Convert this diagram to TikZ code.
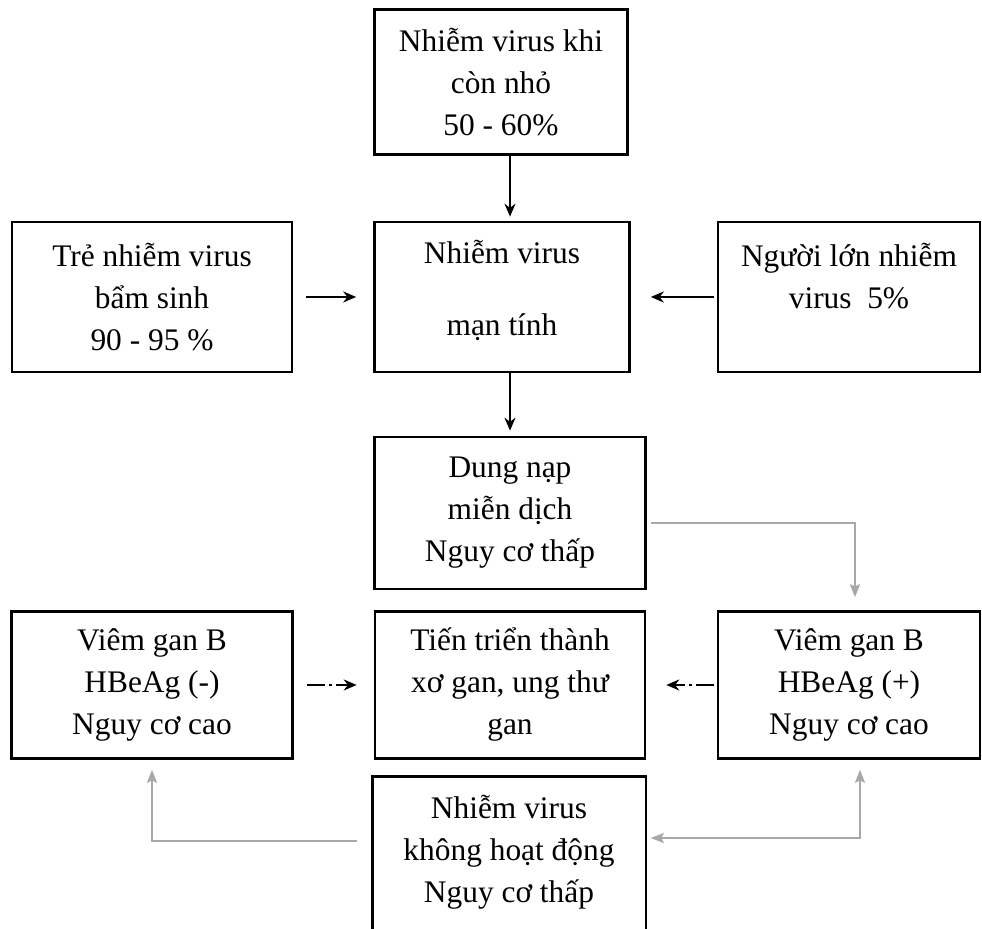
\documentclass[tikz,border=0pt]{standalone}
\usepackage{fontspec}
\setmainfont{Liberation Serif}
\usetikzlibrary{positioning, arrows.meta}

\definecolor{linkgray}{RGB}{168,168,168}

\tikzset{
  box/.style={shape=rectangle, draw=black, line width=1.3pt, align=center,
    inner sep=0pt, font=\fontsize{15.7}{21}\selectfont},
  openbox/.style={box, draw=none},
  frame/.style={draw=black, line width=1.3pt},
  flow/.style={->, draw=black, line width=1pt},
  dashflow/.style={flow, dash pattern=on 9pt off 2pt on 1.5pt off 2pt},
  link/.style={draw=linkgray, line width=1pt,
    >={Stealth[length=6.5pt, width=5pt, inset=1.2pt]}},
}

\begin{document}
\begin{tikzpicture}
        [x=0.5pt, y=-0.5pt, >={Stealth[length=6.5pt, width=5.5pt]}]
        \clip (0, 0) rectangle (982, 929);
        \fill[white] (0, 0) rectangle (982, 929);

        \node[box, minimum width=126.5pt, minimum height=72.5pt] (early) at (501, 82) {Nhiễm virus khi\\còn nhỏ\\50 - 60\%};
        \node[box, minimum width=127.5pt, minimum height=75pt] (chronic) at (502, 297) {Nhiễm virus\\[15pt]mạn tính\\[-12pt]~};
        \node[box, minimum width=140pt, minimum height=75pt] (congenital) at (152, 297) {Trẻ nhiễm virus\\bẩm sinh\\90 - 95 \%};
        \node[box, minimum width=131pt, minimum height=75pt] (adult) at (849, 297) {Người lớn nhiễm\\virus\ \ 5\%\\~};
        \node[box, minimum width=135.5pt, minimum height=76pt] (tolerance) at (510, 513) {Dung nạp\\miễn dịch\\Nguy cơ thấp};
        \node[box, minimum width=140.5pt, minimum height=73.5pt] (hepneg) at (152, 685) {Viêm gan B\\HBeAg (-)\\Nguy cơ cao};
        \node[box, minimum width=135pt, minimum height=73.5pt] (cirrhosis) at (510, 685) {Tiến triển thành\\xơ gan, ung thư\\gan};
        \node[box, minimum width=131pt, minimum height=73.5pt] (hepos) at (849, 685) {Viêm gan B\\HBeAg (+)\\Nguy cơ cao};
        \node[openbox, minimum width=135.5pt, minimum height=74pt] (inactive) at (509, 852) {Nhiễm virus\\không hoạt động\\Nguy cơ thấp};
        \draw[frame] ([yshift=-4pt]inactive.south west) |- (inactive.north east) -- ([yshift=-4pt]inactive.south east);

        \draw [flow, shorten >=2pt] (early.south -| tolerance) -- (chronic.north -| tolerance);
        \path [flow, shorten <=6.5pt, shorten >=8.5pt] (congenital) edge (chronic);
        \path [flow, shorten <=1.5pt, shorten >=10pt] (adult) edge (chronic);
        \draw [flow, shorten >=2.5pt] (chronic.south -| tolerance) -- (tolerance.north);

        \path [dashflow, shorten <=6.5pt, shorten >=8.5pt] (hepneg) edge (cirrhosis);
        \path [dashflow, shorten <=1.5pt, shorten >=10pt] (hepos) edge (cirrhosis);

        \draw [link, ->, shorten <=2pt, shorten >=6.5pt] ([yshift=-5pt]tolerance.east) -| ([xshift=3pt]hepos.north);
        \draw [link, ->, shorten <=7.5pt, shorten >=5pt] ([yshift=5.5pt]inactive.west) -| (hepneg.south);
        \draw [link, <->, shorten <=5pt, shorten >=2.5pt] ([xshift=5.5pt]hepos.south) |- ([yshift=7pt]inactive.east);
    \end{tikzpicture}
\end{document}
